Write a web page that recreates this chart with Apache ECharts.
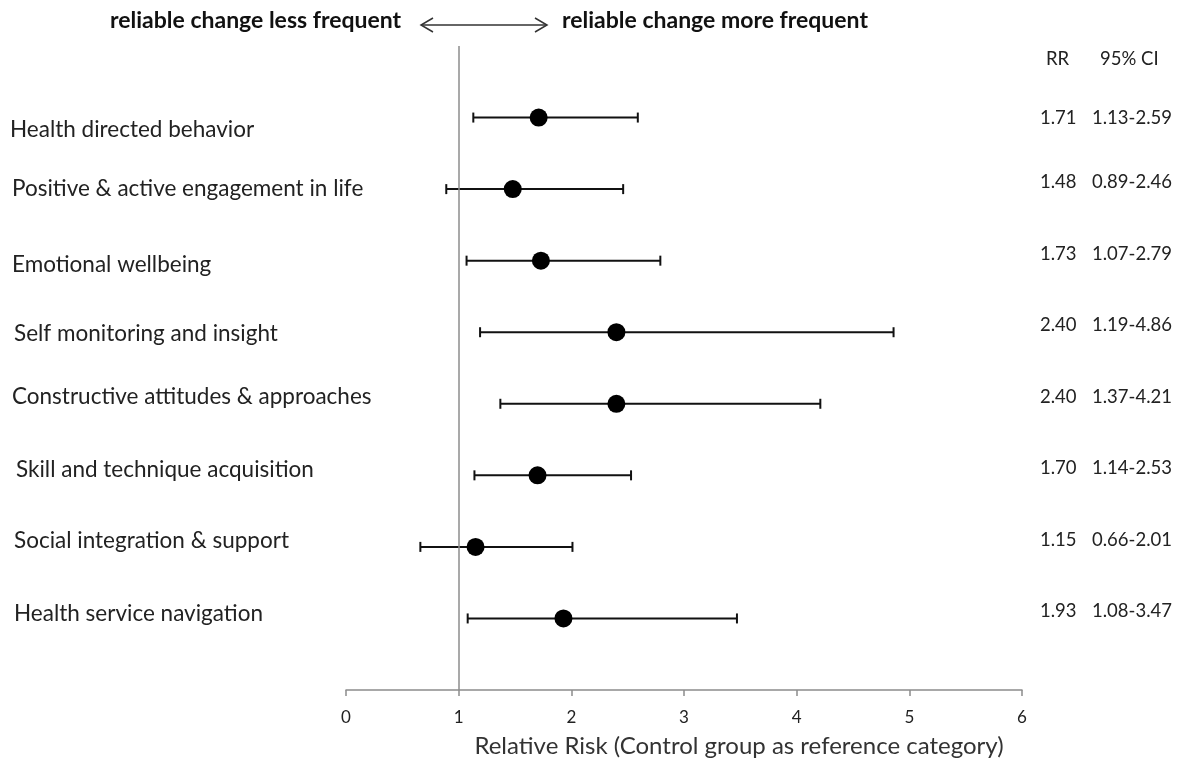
<!DOCTYPE html>
<html>
<head>
<meta charset="utf-8">
<script src="https://cdn.jsdelivr.net/npm/echarts@6/dist/echarts.min.js"></script>
<style>
html,body{margin:0;padding:0;background:#fff;}
#main{width:1186px;height:764px;}
</style>
</head>
<body>
<div id="main"></div>
<script>
const categories = [
  'Health directed behavior',
  'Positive & active engagement in life',
  'Emotional wellbeing',
  'Self monitoring and insight',
  'Constructive attitudes & approaches',
  'Skill and technique acquisition',
  'Social integration & support',
  'Health service navigation'
];
const rr   = [1.71, 1.48, 1.73, 2.40, 2.40, 1.70, 1.15, 1.93];
const ciLo = [1.13, 0.89, 1.07, 1.19, 1.37, 1.14, 0.66, 1.08];
const ciHi = [2.59, 2.46, 2.79, 4.86, 4.21, 2.53, 2.01, 3.47];
const xTicks = [0, 1, 2, 3, 4, 5, 6];
const xTitle = 'Relative Risk (Control group as reference category)';
const leftNote = 'reliable change less frequent';
const rightNote = 'reliable change more frequent';
const colHeaders = ['RR', '95% CI'];

// layout-only nudges of the row labels (pixels), as in the original figure
const labelNudgeY = [12, 0, 4, 2, -7, -6, -6, -5];
const labelNudgeX = [-2, 0, 0, 2, 0, 4, 2, 2];
const statNudgeY  = [0, -7, -7, -7, -7, -7, -7, -7];

const FONT = 'Lato, "Open Sans", sans-serif';
const chart = echarts.init(document.getElementById('main'), null, {renderer: 'canvas'});

const pointData = rr.map((v, i) => [v, i + 1]);
const barData = rr.map((v, i) => [ciLo[i], ciHi[i], i + 1]);

function pad(dy, dx) {
  return [dy > 0 ? 2 * dy : 0, 0, dy < 0 ? -2 * dy : 0, dx];
}
const leftRich = {};
categories.forEach((c, i) => {
  leftRich['r' + i] = {fontFamily: FONT, fontSize: 22.5, color: '#222', padding: pad(labelNudgeY[i], labelNudgeX[i])};
});
const rightRich = {};
rr.forEach((v, i) => {
  rightRich['a' + i] = {width: 52, fontFamily: FONT, fontSize: 18.5, color: '#222', padding: pad(statNudgeY[i], 0)};
  rightRich['b' + i] = {fontFamily: FONT, fontSize: 18.5, color: '#222', padding: pad(statNudgeY[i], 0)};
});

const option = {
  animation: false,
  backgroundColor: '#fff',
  grid: {left: 346, right: 164, top: 46, bottom: 74},
  xAxis: {
    type: 'value',
    min: xTicks[0], max: xTicks[xTicks.length - 1], interval: 1,
    axisLine: {show: true, onZero: false, lineStyle: {color: '#8c8c8c', width: 1.5}},
    axisTick: {show: true, inside: false, length: 6, lineStyle: {color: '#8c8c8c', width: 1.5}},
    splitLine: {show: false},
    axisLabel: {color: '#222', fontFamily: FONT, fontSize: 17, margin: 19},
    name: xTitle,
    nameLocation: 'middle',
    nameGap: 44,
    nameTextStyle: {color: '#333', fontFamily: FONT, fontSize: 24, padding: [0, 0, 0, 110]}
  },
  yAxis: [
    {
      type: 'value', inverse: true, min: 0, max: 9, interval: 1,
      axisLine: {show: false}, axisTick: {show: false}, splitLine: {show: false},
      axisLabel: {
        align: 'left', margin: 334, color: '#222', fontFamily: FONT, fontSize: 22.5,
        formatter: v => (v >= 1 && v <= categories.length) ? '{r' + (v - 1) + '|' + categories[v - 1] + '}' : '',
        rich: leftRich
      }
    },
    {
      type: 'value', inverse: true, min: 0, max: 9, interval: 1, position: 'right',
      axisLine: {show: false}, axisTick: {show: false}, splitLine: {show: false},
      axisLabel: {
        align: 'left', margin: 18, color: '#222', fontFamily: FONT, fontSize: 18.5,
        formatter: v => (v >= 1 && v <= rr.length)
          ? '{a' + (v - 1) + '|' + rr[v - 1].toFixed(2) + '}{b' + (v - 1) + '|' + ciLo[v - 1].toFixed(2) + '-' + ciHi[v - 1].toFixed(2) + '}'
          : '',
        rich: rightRich
      }
    }
  ],
  series: [
    {
      type: 'custom',
      z: 2,
      data: barData,
      renderItem: function (params, api) {
        const y = api.value(2);
        const p1 = api.coord([api.value(0), y]);
        const p2 = api.coord([api.value(1), y]);
        const h = 5;
        const st = {stroke: '#111', lineWidth: 2};
        return {
          type: 'group',
          children: [
            {type: 'line', shape: {x1: p1[0], y1: p1[1], x2: p2[0], y2: p2[1]}, style: st},
            {type: 'line', shape: {x1: p1[0], y1: p1[1] - h, x2: p1[0], y2: p1[1] + h}, style: st},
            {type: 'line', shape: {x1: p2[0], y1: p2[1] - h, x2: p2[0], y2: p2[1] + h}, style: st}
          ]
        };
      },
      markLine: {
        silent: true, symbol: 'none', label: {show: false},
        lineStyle: {color: '#8c8c8c', width: 1.5, type: 'solid'},
        data: [{xAxis: 1}]
      }
    },
    {
      type: 'scatter',
      z: 3,
      data: pointData,
      symbol: 'circle',
      symbolSize: 18,
      itemStyle: {color: '#000', opacity: 1}
    }
  ],
  graphic: [
    {type: 'text', left: 110, top: 9, style: {text: leftNote, font: 'bold 23px ' + FONT, fill: '#111'}},
    {type: 'text', left: 562, top: 9, style: {text: rightNote, font: 'bold 23px ' + FONT, fill: '#111'}},
    {type: 'line', shape: {x1: 421, y1: 25, x2: 547, y2: 25}, style: {stroke: '#333', lineWidth: 1.5}},
    {type: 'polyline', shape: {points: [[433, 18], [421, 25], [433, 32]]}, style: {stroke: '#333', lineWidth: 1.5, fill: null}},
    {type: 'polyline', shape: {points: [[535, 18], [547, 25], [535, 32]]}, style: {stroke: '#333', lineWidth: 1.5, fill: null}},
    {type: 'text', left: 1046, top: 50, style: {text: colHeaders[0], font: '18.5px ' + FONT, fill: '#222'}},
    {type: 'text', left: 1100, top: 50, style: {text: colHeaders[1], font: '18.5px ' + FONT, fill: '#222'}}
  ]
};
chart.setOption(option);
</script>
</body>
</html>
